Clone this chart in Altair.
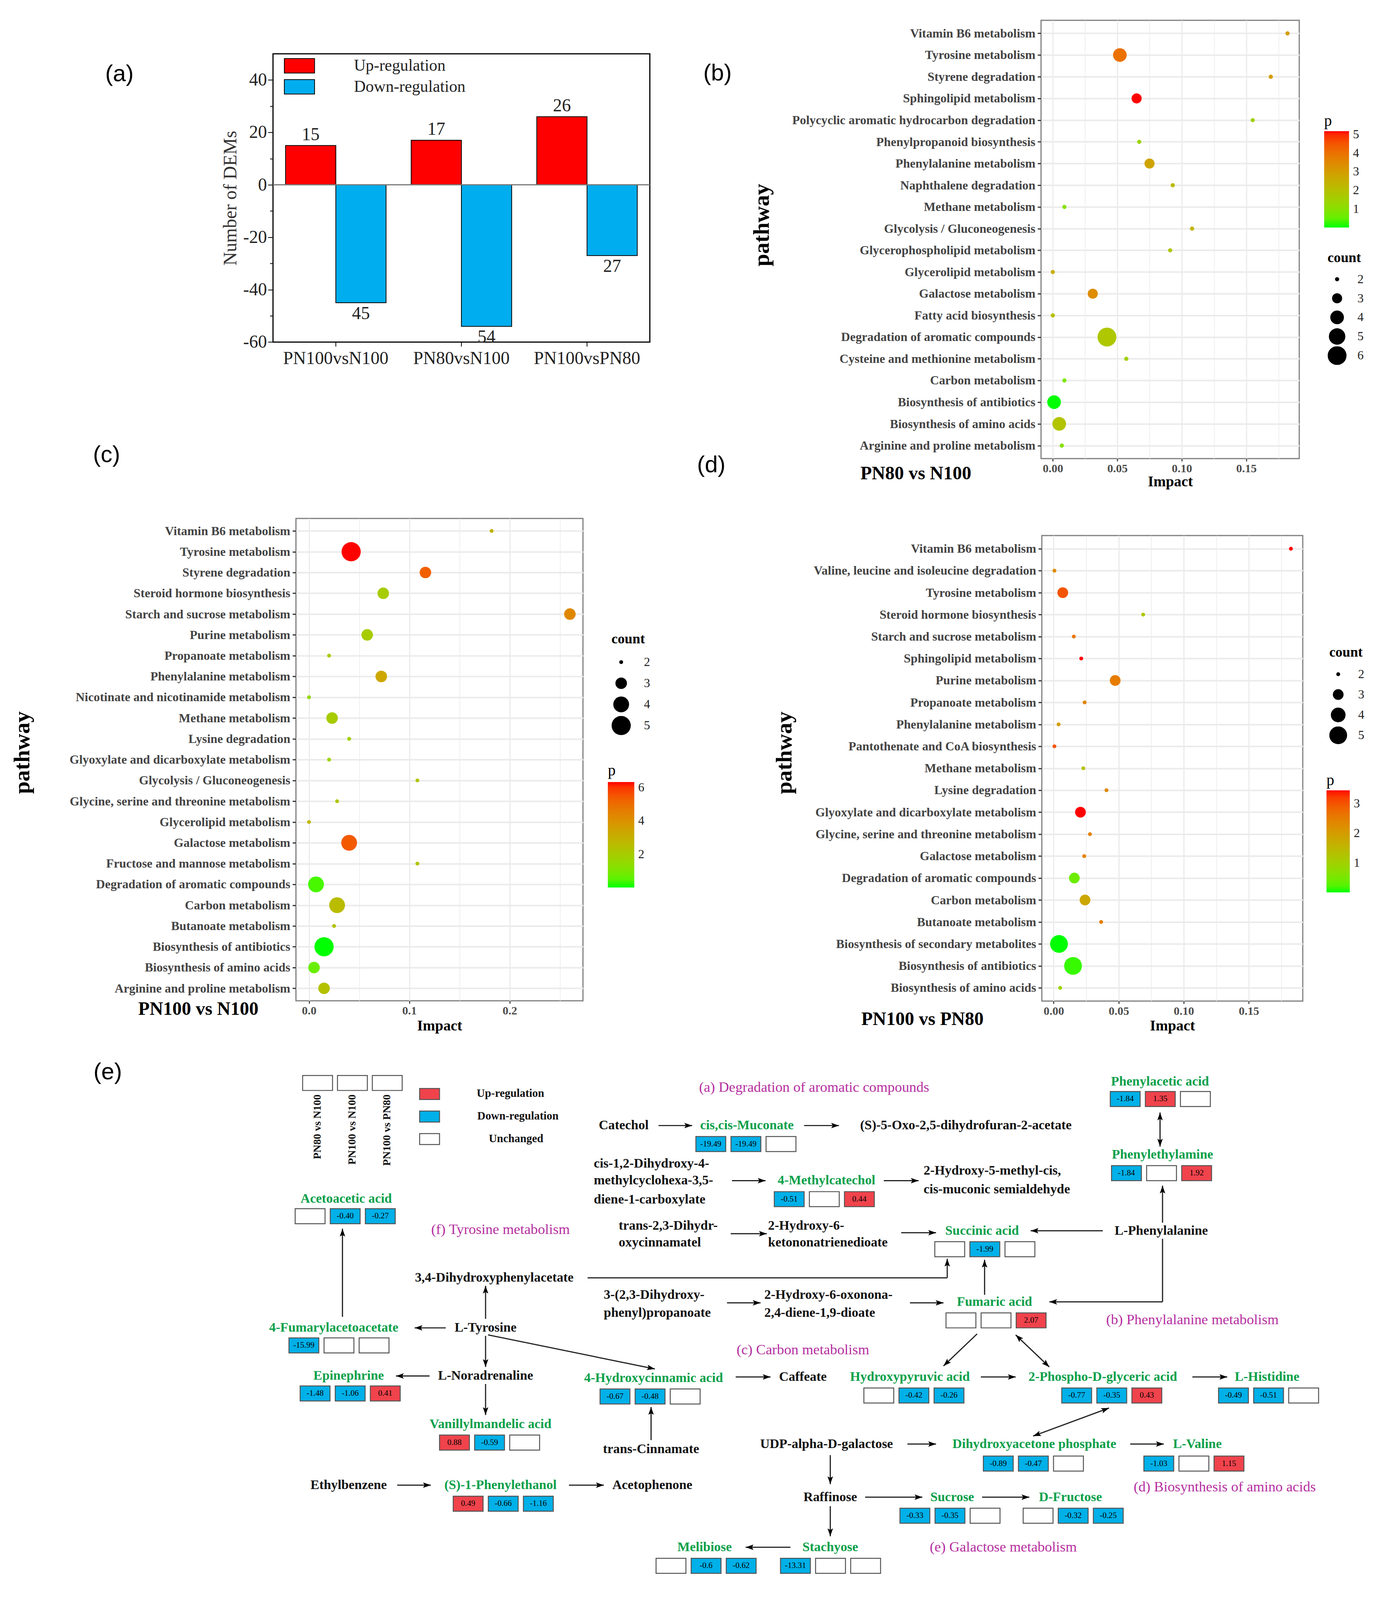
import math
import altair as alt
import pandas as pd

SERIF = "Liberation Serif"
SANS = "Liberation Sans"

# ======================= DATA =======================
# (a) number of DEMs
comparisons = ["PN100vsN100", "PN80vsN100", "PN100vsPN80"]
reg_types = ["Up-regulation", "Down-regulation"]
up_counts = [15, 17, 26]
down_counts = [45, 54, 27]

# (b) PN80 vs N100
b_paths = ["Vitamin B6 metabolism", "Tyrosine metabolism", "Styrene degradation",
           "Sphingolipid metabolism", "Polycyclic aromatic hydrocarbon degradation",
           "Phenylpropanoid biosynthesis", "Phenylalanine metabolism", "Naphthalene degradation",
           "Methane metabolism", "Glycolysis / Gluconeogenesis", "Glycerophospholipid metabolism",
           "Glycerolipid metabolism", "Galactose metabolism", "Fatty acid biosynthesis",
           "Degradation of aromatic compounds", "Cysteine and methionine metabolism",
           "Carbon metabolism", "Biosynthesis of antibiotics", "Biosynthesis of amino acids",
           "Arginine and proline metabolism"]
b_impact = [0.182, 0.052, 0.169, 0.065, 0.155, 0.067, 0.075, 0.093, 0.009, 0.108,
            0.091, 0.000, 0.031, 0.000, 0.042, 0.057, 0.009, 0.001, 0.005, 0.007]
b_count = [2, 4, 2, 3, 2, 2, 3, 2, 2, 2, 2, 2, 3, 2, 6, 2, 2, 4, 4, 2]
b_p = [3.0, 4.0, 3.0, 5.17, 1.5, 1.4, 2.8, 2.2, 1.0, 2.3, 1.8, 2.5, 3.4, 2.0, 1.8, 1.5,
       0.8, 0.0, 1.9, 1.0]

# (c) PN100 vs N100
c_paths = ["Vitamin B6 metabolism", "Tyrosine metabolism", "Styrene degradation",
           "Steroid hormone biosynthesis", "Starch and sucrose metabolism", "Purine metabolism",
           "Propanoate metabolism", "Phenylalanine metabolism",
           "Nicotinate and nicotinamide metabolism", "Methane metabolism", "Lysine degradation",
           "Glyoxylate and dicarboxylate metabolism", "Glycolysis / Gluconeogenesis",
           "Glycine, serine and threonine metabolism", "Glycerolipid metabolism",
           "Galactose metabolism", "Fructose and mannose metabolism",
           "Degradation of aromatic compounds", "Carbon metabolism", "Butanoate metabolism",
           "Biosynthesis of antibiotics", "Biosynthesis of amino acids",
           "Arginine and proline metabolism"]
c_impact = [0.182, 0.042, 0.116, 0.074, 0.260, 0.058, 0.020, 0.072, 0.000, 0.023, 0.040,
            0.020, 0.108, 0.028, 0.000, 0.040, 0.108, 0.007, 0.028, 0.025, 0.015, 0.005, 0.015]
c_count = [2, 5, 3, 3, 3, 3, 2, 3, 2, 3, 2, 2, 2, 2, 2, 4, 2, 4, 4, 2, 5, 3, 3]
c_p = [2.9, 6.32, 5.3, 2.0, 4.3, 2.0, 2.0, 3.3, 1.5, 2.0, 1.8, 1.7, 2.3, 2.3, 2.7, 5.4,
       2.3, 0.3, 2.6, 2.4, 0.0, 0.7, 2.4]

# (d) PN100 vs PN80
d_paths = ["Vitamin B6 metabolism", "Valine, leucine and isoleucine degradation",
           "Tyrosine metabolism", "Steroid hormone biosynthesis", "Starch and sucrose metabolism",
           "Sphingolipid metabolism", "Purine metabolism", "Propanoate metabolism",
           "Phenylalanine metabolism", "Pantothenate and CoA biosynthesis", "Methane metabolism",
           "Lysine degradation", "Glyoxylate and dicarboxylate metabolism",
           "Glycine, serine and threonine metabolism", "Galactose metabolism",
           "Degradation of aromatic compounds", "Carbon metabolism", "Butanoate metabolism",
           "Biosynthesis of secondary metabolites", "Biosynthesis of antibiotics",
           "Biosynthesis of amino acids"]
d_impact = [0.1824, 0.0006, 0.007, 0.0688, 0.0155, 0.0212, 0.0473, 0.0238, 0.0038, 0.0006,
            0.0228, 0.0406, 0.0206, 0.0279, 0.0235, 0.0159, 0.0241, 0.0365, 0.0041, 0.0149,
            0.005]
d_count = [2, 2, 3, 2, 2, 2, 3, 2, 2, 2, 2, 2, 3, 2, 2, 3, 3, 2, 5, 5, 2]
d_p = [3.44, 2.3, 3.0, 1.2, 2.6, 3.44, 2.5, 2.4, 2.0, 3.0, 1.3, 2.3, 3.44, 2.4, 2.4, 0.4,
       1.8, 2.5, 0.0, 0.1, 0.9]

# (e) pathway map: metabolites with their three fold changes
e_conditions = ["PN80 vs N100", "PN100 vs N100", "PN100 vs PN80"]
e_legend = ["Up-regulation", "Down-regulation", "Unchanged"]
box_values = [
    ["", "-0.40", "-0.27"],      # Acetoacetic acid
    ["-19.49", "-19.49", ""],    # cis,cis-Muconate
    ["-0.51", "", "0.44"],       # 4-Methylcatechol
    ["-1.84", "1.35", ""],       # Phenylacetic acid
    ["-1.84", "", "1.92"],       # Phenylethylamine
    ["", "-1.99", ""],           # Succinic acid
    ["", "", "2.07"],            # Fumaric acid
    ["-15.99", "", ""],          # 4-Fumarylacetoacetate
    ["-1.48", "-1.06", "0.41"],  # Epinephrine
    ["-0.67", "-0.48", ""],      # 4-Hydroxycinnamic acid
    ["", "-0.42", "-0.26"],      # Hydroxypyruvic acid
    ["-0.77", "-0.35", "0.43"],  # 2-Phospho-D-glyceric acid
    ["-0.49", "-0.51", ""],      # L-Histidine
    ["0.88", "-0.59", ""],       # Vanillylmandelic acid
    ["-0.89", "-0.47", ""],      # Dihydroxyacetone phosphate
    ["-1.03", "", "1.15"],       # L-Valine
    ["0.49", "-0.66", "-1.16"],  # (S)-1-Phenylethanol
    ["-0.33", "-0.35", ""],      # Sucrose
    ["", "-0.32", "-0.25"],      # D-Fructose
    ["", "-0.6", "-0.62"],       # Melibiose
    ["-13.31", "", ""],          # Stachyose
]
green_names = ["cis,cis-Muconate", "4-Methylcatechol", "Phenylacetic acid", "Phenylethylamine",
               "Acetoacetic acid", "Succinic acid", "Fumaric acid", "4-Fumarylacetoacetate",
               "Epinephrine", "4-Hydroxycinnamic acid", "Hydroxypyruvic acid",
               "2-Phospho-D-glyceric acid", "L-Histidine", "Vanillylmandelic acid",
               "Dihydroxyacetone phosphate", "L-Valine", "(S)-1-Phenylethanol", "Sucrose",
               "D-Fructose", "Melibiose", "Stachyose"]
black_names = ["Catechol", "(S)-5-Oxo-2,5-dihydrofuran-2-acetate", "L-Phenylalanine",
               "3,4-Dihydroxyphenylacetate", "L-Tyrosine", "L-Noradrenaline", "Caffeate",
               "trans-Cinnamate", "UDP-alpha-D-galactose", "Ethylbenzene", "Acetophenone",
               "Raffinose"]
black_left_names = ["cis-1,2-Dihydroxy-4-", "methylcyclohexa-3,5-", "diene-1-carboxylate",
                    "2-Hydroxy-5-methyl-cis,", "cis-muconic semialdehyde",
                    "trans-2,3-Dihydr-", "oxycinnamatel", "2-Hydroxy-6-", "ketononatrienedioate",
                    "3-(2,3-Dihydroxy-", "phenyl)propanoate", "2-Hydroxy-6-oxonona-",
                    "2,4-diene-1,9-dioate"]
pathway_names = ["(a) Degradation of aromatic compounds", "(f) Tyrosine metabolism",
                 "(b) Phenylalanine metabolism", "(c) Carbon metabolism",
                 "(d) Biosynthesis of amino acids", "(e) Galactose metabolism"]

# ======================= LAYOUT (diagram positions, figure units) =======================
box_pos = [(235, 1192), (557, 1120), (620, 1175), (890, 1075), (891, 1149), (749, 1225),
           (758, 1296), (230, 1321), (239, 1369), (480, 1372), (692, 1371), (851, 1371),
           (977, 1371), (351, 1418), (788, 1439), (917, 1439), (362, 1479), (721, 1491),
           (820, 1491), (525, 1541), (625, 1541)]
green_pos = [(598, 1109), (662, 1164), (930, 1065), (932, 1138), (276, 1182), (787, 1214),
             (797, 1285), (266, 1311), (278, 1359), (523, 1361), (729, 1360), (884, 1360),
             (1016, 1360), (392, 1407), (829, 1427), (960, 1427), (400, 1468), (763, 1480),
             (858, 1480), (564, 1530), (665, 1530)]
black_pos = [(499, 1109), (774, 1109), (931, 1214), (395, 1261), (388, 1311), (388, 1359),
             (643, 1360), (521, 1432), (662, 1427), (278, 1468), (522, 1468), (665, 1480)]
black_left_pos = [(475, 1147), (475, 1164), (475, 1183), (740, 1154), (740, 1173),
                  (495, 1209), (495, 1226), (615, 1209), (615, 1226), (483, 1278), (483, 1296),
                  (612, 1278), (612, 1296)]
pathway_pos = [(652, 1071), (400, 1213), (956, 1303), (643, 1333), (982, 1470), (804, 1530)]
segments = [
    (273, 1300, 273, 1212, "end"), (388, 1302, 388, 1269, "end"),
    (356, 1311, 331, 1311, "end"), (388, 1319, 388, 1350, "end"),
    (390, 1318, 524, 1352, "end"), (343, 1359, 316, 1359, "end"),
    (388, 1367, 388, 1398, "end"), (521, 1423, 521, 1390, "end"),
    (589, 1360, 617, 1360, "end"), (317, 1468, 344, 1468, "end"),
    (455, 1468, 483, 1468, "end"), (470, 1261, 759, 1261, "none"),
    (759, 1261, 759, 1242, "end"), (527, 1109, 554, 1109, "end"),
    (644, 1109, 672, 1109, "end"), (586, 1164, 613, 1164, "end"),
    (708, 1164, 736, 1164, "end"), (585, 1217, 614, 1217, "end"),
    (722, 1216, 750, 1216, "end"), (884, 1214, 826, 1214, "end"),
    (582, 1286, 609, 1286, "end"), (729, 1286, 756, 1286, "end"),
    (789, 1278, 789, 1243, "end"), (930, 1096, 930, 1130, "both"),
    (932, 1206, 932, 1169, "end"), (932, 1222, 932, 1285, "none"),
    (932, 1285, 841, 1285, "end"), (783, 1317, 756, 1349, "end"),
    (814, 1318, 841, 1350, "both"), (786, 1360, 814, 1360, "end"),
    (956, 1360, 984, 1360, "end"), (889, 1391, 828, 1419, "both"),
    (727, 1427, 750, 1427, "end"), (906, 1427, 933, 1427, "end"),
    (665, 1438, 665, 1467, "end"), (693, 1480, 739, 1480, "end"),
    (787, 1480, 825, 1480, "end"), (665, 1489, 665, 1519, "end"),
    (633, 1530, 597, 1530, "end"),
]
BOX_W, BOX_H, BOX_STEP = 24, 15, 28.2
UP_RED, DOWN_BLUE = "#F0434C", "#00B0E8"
GREEN, MAGENTA = "#0AA04A", "#B52DA0"

# The visible page is ~4050 px tall: every vertical distance of the 5019-px figure is scaled by K.
K = 0.805


def one():
    return pd.DataFrame({"t": [0]})


def cell(L, W, R, T, H, B):
    return alt.Chart(one()).mark_rect(opacity=0).encode(
        x=alt.value(-L), x2=alt.value(W + R), y=alt.value(-T), y2=alt.value(H + B))


def anno(text, x, y, font=SERIF, size=40, weight="normal", angle=0, color="black", align="center"):
    return alt.Chart(pd.DataFrame({"t": [text]})).mark_text(
        font=font, fontSize=size, fontWeight=weight, angle=angle, color=color, align=align,
        baseline="middle").encode(x=alt.value(x), y=alt.value(y * K), text="t:N")


# ======================= (a) =======================
dfa = pd.DataFrame({
    "comparison": comparisons * 2,
    "type": [reg_types[0]] * 3 + [reg_types[1]] * 3,
    "value": up_counts + [-v for v in down_counts],
    "label": [str(v) for v in up_counts + down_counts],
})
WA, HA = 969, 921 * K
xa = alt.X("comparison:N", sort=comparisons,
           scale=alt.Scale(paddingInner=0.2, paddingOuter=0.1),
           axis=alt.Axis(title=None, labelAngle=0, labelFont=SERIF, labelFontSize=46,
                         labelColor="#222", labelLimit=2000, tickColor="black", tickSize=11,
                         tickWidth=2, domain=False, labelPadding=9, bandPosition=0.5,
                         grid=False))
xoff = alt.XOffset("type:N", sort=reg_types, scale=alt.Scale(paddingInner=0, paddingOuter=0))
ya_scale = alt.Scale(domain=[-60, 50], nice=False, zero=False)
ya = alt.Y("value:Q", stack=None, scale=ya_scale,
           axis=alt.Axis(values=list(range(-60, 50, 10)),
                         labelExpr="datum.value % 20 == 0 ? '' + datum.value : ''",
                         tickSize={"condition": {"test": "datum.value % 20 == 0", "value": 13}, "value": 8},
                         tickWidth=2, tickColor="black", domain=False, grid=False,
                         labelFont=SERIF, labelFontSize=46, labelColor="#222", labelPadding=3,
                         title="Number of DEMs", titleFont=SERIF, titleFontSize=48,
                         titleFontWeight="normal", titleColor="#333", titleX=-109, titleY=HA / 2,
                         titleAngle=270, titleBaseline="middle", titleAlign="center"))
bars = alt.Chart(dfa).mark_bar(stroke="black", strokeWidth=2).encode(
    x=xa, xOffset=xoff, y=ya,
    fill=alt.Fill("type:N", sort=reg_types,
                  scale=alt.Scale(domain=reg_types, range=["#FF0000", "#00AEEF"]),
                  legend=alt.Legend(title=None, orient="none", legendX=47, legendY=10,
                                    direction="vertical", symbolType="M-2.1,-1H2.1V1H-2.1Z",
                                    symbolSize=1369, symbolStrokeColor="black",
                                    symbolStrokeWidth=2, symbolOpacity=1, labelFont=SERIF,
                                    labelFontSize=42, labelColor="#222", labelOffset=119,
                                    rowPadding=8, padding=0, labelLimit=1000)))
zero_line = alt.Chart(pd.DataFrame({"y": [0]})).mark_rule(color="#777", strokeWidth=3).encode(
    y=alt.Y("y:Q", scale=ya_scale))
up_txt = alt.Chart(dfa).transform_filter("datum.value > 0").mark_text(
    font=SERIF, fontSize=46, color="#222", baseline="bottom", dy=-4).encode(
    x=xa, xOffset=xoff, y=alt.Y("value:Q", scale=ya_scale), text="label:N")
dn_txt = alt.Chart(dfa).transform_filter("datum.value < 0").mark_text(
    font=SERIF, fontSize=46, color="#222", baseline="top", dy=6).encode(
    x=xa, xOffset=xoff, y=alt.Y("value:Q", scale=ya_scale), text="label:N")
panel_a = alt.layer(
    cell(686, WA, 67, 140 * K, HA, 401 * K), bars, zero_line, up_txt, dn_txt,
    anno("(a)", -395, 65, font=SANS, size=60),
    anno("(c)", -428, 1282, font=SANS, size=60),
).properties(width=WA, height=HA, view=alt.ViewBackground(stroke="black", strokeWidth=3))


# ======================= bubble panels =======================
def bubble(paths, impact, count, pval, c):
    df = pd.DataFrame({"pathway": paths, "impact": impact, "count": count, "p": pval})
    W, H = c["W"], c["H"] * K
    mj = c["major"]
    test_major = f"abs(datum.value/{mj} - round(datum.value/{mj})) < 0.001"
    xaxis = alt.Axis(values=c["xvals"],
                     labelExpr=f"{test_major} ? format(datum.value, '{c['fmt']}') : ''",
                     tickOpacity={"condition": {"test": test_major, "value": 1}, "value": 0},
                     gridWidth={"condition": {"test": test_major, "value": 3}, "value": 1.6},
                     gridColor="#EBEBEB", grid=True, tickSize=7, tickWidth=2.5, tickColor="#333",
                     domain=False, labelFont=SERIF, labelFontSize=30, labelFontWeight="bold",
                     labelColor="#4D4D4D", labelPadding=4,
                     title="Impact", titleFont=SERIF, titleFontSize=38, titleFontWeight="bold",
                     titleColor="black", titleX=W / 2, titleY=c["impact_dy"] * K,
                     titleBaseline="middle", titleAlign="center")
    yaxis = alt.Axis(title=None, labelFont=SERIF, labelFontSize=32, labelFontWeight="bold",
                     labelColor="#444", labelLimit=2000, tickSize=9, tickWidth=3,
                     tickColor="#333", domain=False, grid=True, gridColor="#EBEBEB",
                     gridWidth=4, labelPadding=6)
    maxd = math.sqrt(c["srange"][1] * K)
    clip = round(maxd)
    cx = c["sym_cx"] - maxd / 2
    cy = c["count_title_cy"] * K - 18
    ctp = max(0, (c["count_first_cy"] * K - clip / 2) - (cy + 36))
    crp = max(0, c["count_step"] * K - clip)
    clo = c["count_label_x"] - (cx + maxd)
    py = c["p_title_cy"] * K - 20
    ptp = max(0, c["grad_top"] * K - (py + 40))
    pts = alt.Chart(df).mark_circle(opacity=1).encode(
        x=alt.X("impact:Q", scale=alt.Scale(domain=c["xdom"], nice=False, zero=False), axis=xaxis),
        y=alt.Y("pathway:N", sort=paths, scale=alt.Scale(type="point", padding=0.6), axis=yaxis),
        size=alt.Size("count:Q", scale=alt.Scale(domain=c["sdom"],
                                                 range=[v * K for v in c["srange"]]),
                      legend=alt.Legend(title="count", orient="none", legendX=cx,
                                        legendY=cy, values=c["cvals"], format="d",
                                        direction="vertical", symbolType="circle",
                                        symbolFillColor="black", symbolStrokeColor="black",
                                        symbolStrokeWidth=0, symbolOpacity=1,
                                        clipHeight=clip, titleFont=SERIF, titleFontSize=36,
                                        titleFontWeight="bold", titleColor="black",
                                        titlePadding=ctp, labelFont=SERIF, labelFontSize=32,
                                        labelColor="#222", labelOffset=clo,
                                        rowPadding=crp, padding=0)),
        color=alt.Color("p:Q", scale=alt.Scale(domain=[min(pval), max(pval)],
                                               range=["#00FF00", "#FF0000"], interpolate="lab"),
                        legend=alt.Legend(title="p", orient="none", legendX=c["grad_x"],
                                          legendY=py, values=c["pvals"], format="d",
                                          direction="vertical",
                                          gradientLength=c["grad_len"] * K,
                                          gradientThickness=c["grad_w"], gradientStrokeWidth=0,
                                          titleFont=SERIF, titleFontSize=40,
                                          titleFontWeight="normal", titleColor="black",
                                          titlePadding=ptp, labelFont=SERIF,
                                          labelFontSize=32, labelColor="#222", labelOffset=10,
                                          labelOverlap=False, padding=0)),
    )
    layers = [cell(c["L"], W, c["R"], c["T"] * K, H, c["B"] * K), pts]
    for a in c["annos"]:
        layers.append(anno(*a[:3], **a[3]))
    return alt.layer(*layers).properties(
        width=W, height=H, view=alt.ViewBackground(stroke="#7F7F7F", strokeWidth=3))


vals_05 = [0, 0.025, 0.05, 0.075, 0.1, 0.125, 0.15, 0.175]
vals_1 = [0, 0.05, 0.1, 0.15, 0.2, 0.25]

cfg_b = dict(W=664, H=1400, L=929, R=195, T=33, B=119, xdom=[-0.0091, 0.1911], major=0.05,
             xvals=vals_05, fmt=".2f", impact_dy=74, sdom=[2, 6], srange=[144, 2916],
             cvals=[2, 3, 4, 5, 6], pvals=[1, 2, 3, 4, 5],
             p_title_cy=322, grad_top=354, grad_x=728, grad_len=308, grad_w=64,
             sym_cx=761, count_title_cy=760, count_first_cy=827, count_step=61,
             count_label_x=813,
             annos=[("(b)", -832, 170, {"font": SANS, "size": 60}),
                    ("(d)", -848, 1421, {"font": SANS, "size": 60}),
                    ("PN80 vs N100", -322, 1449, {"size": 48, "weight": "bold"}),
                    ("pathway", -717, 654, {"size": 58, "weight": "bold", "angle": 270})])
cfg_c = dict(W=738, H=1541, L=745, R=239, T=150, B=149, xdom=[-0.013, 0.273], major=0.1,
             xvals=vals_1, fmt=".1f", impact_dy=80, sdom=[2, 5], srange=[121, 3025],
             cvals=[2, 3, 4, 5], pvals=[2, 4, 6],
             p_title_cy=806, grad_top=842, grad_x=802, grad_len=337, grad_w=68,
             sym_cx=836, count_title_cy=387, count_first_cy=459, count_step=67.5,
             count_label_x=894,
             annos=[("PN100 vs N100", -251, 1569, {"size": 48, "weight": "bold"}),
                    ("pathway", -703, 748, {"size": 58, "weight": "bold", "angle": 270})])
cfg_d = dict(W=671, H=1487, L=931, R=186, T=114, B=149, xdom=[-0.0091, 0.1915], major=0.05,
             xvals=vals_05, fmt=".2f", impact_dy=80, sdom=[2, 5], srange=[121, 2601],
             cvals=[2, 3, 4, 5], pvals=[1, 2, 3],
             p_title_cy=782, grad_top=814, grad_x=732, grad_len=326, grad_w=60,
             sym_cx=762, count_title_cy=374, count_first_cy=443, count_step=65,
             count_label_x=813,
             annos=[("PN100 vs PN80", -307, 1546, {"size": 48, "weight": "bold"}),
                    ("pathway", -661, 694, {"size": 58, "weight": "bold", "angle": 270})])

panel_b = bubble(b_paths, b_impact, b_count, b_p, cfg_b)
panel_c = bubble(c_paths, c_impact, c_count, c_p, cfg_c)
panel_d = bubble(d_paths, d_impact, d_count, d_p, cfg_d)

# ======================= (e) =======================
WE, HE = 3512, 1700 * K
ex = alt.Scale(domain=[3.125, 1100.625], nice=False, zero=False)
ey = alt.Scale(domain=[1565.625, 1034.375], nice=False, zero=False)
X = lambda f: alt.X(f, scale=ex, axis=None)
Y = lambda f: alt.Y(f, scale=ey, axis=None)


def box_fill(v):
    if v == "":
        return "white"
    return DOWN_BLUE if v.startswith("-") else UP_RED


rows = []
for (x0, y0), vals in zip(box_pos, box_values):
    for i, v in enumerate(vals):
        xl = x0 + i * BOX_STEP
        rows.append({"x": xl, "x2": xl + BOX_W, "y": y0, "y2": y0 + BOX_H,
                     "xc": xl + BOX_W / 2, "yc": y0 + BOX_H / 2, "v": v, "fill": box_fill(v)})
for i in range(3):
    xl = 241 + i * 28
    rows.append({"x": xl, "x2": xl + BOX_W, "y": 1059, "y2": 1074, "xc": xl + 12,
                 "yc": 1066.5, "v": "", "fill": "white"})
for (yy, f) in zip([1072, 1094.5, 1117], [UP_RED, DOWN_BLUE, "white"]):
    rows.append({"x": 335, "x2": 351, "y": yy, "y2": yy + 11, "xc": 343, "yc": yy + 5.5,
                 "v": "", "fill": f})
dfbox = pd.DataFrame(rows)

boxes = alt.Chart(dfbox).mark_rect(stroke="#555", strokeWidth=2.5).encode(
    x=X("x:Q"), x2="x2:Q", y=Y("y:Q"), y2="y2:Q", fill=alt.Fill("fill:N", scale=None))
box_txt = alt.Chart(dfbox).mark_text(font=SERIF, fontSize=21, color="black",
                                     baseline="middle").encode(
    x=X("xc:Q"), y=Y("yc:Q"), text="v:N")


def tdf(names, pos):
    return pd.DataFrame({"text": names, "x": [p[0] for p in pos], "y": [p[1] for p in pos]})


def tlayer(df, **kw):
    return alt.Chart(df).mark_text(baseline="middle", **kw).encode(
        x=X("x:Q"), y=Y("y:Q"), text="text:N")


green_l = tlayer(tdf(green_names, green_pos), font=SERIF, fontSize=34, fontWeight="bold",
                 color=GREEN)
black_l = tlayer(tdf(black_names, black_pos), font=SERIF, fontSize=34, fontWeight="bold",
                 color="#111")
blackleft_l = tlayer(tdf(black_left_names, black_left_pos), font=SERIF, fontSize=34,
                     fontWeight="bold", color="#111", align="left")
path_l = tlayer(tdf(pathway_names, pathway_pos), font=SERIF, fontSize=37, color=MAGENTA)
cond_l = tlayer(tdf(e_conditions, [(253, 1078), (281, 1078), (309, 1078)]), font=SERIF,
                fontSize=28, fontWeight="bold", color="#111", angle=270, align="right")
leg_l = tlayer(tdf(e_legend, [(408, 1077), (414, 1099.5), (412.5, 1122)]), font=SERIF,
               fontSize=29, fontWeight="bold", color="#111")
elabel = tlayer(tdf(["(e)"], [(84.4, 1056)]), font=SANS, fontSize=60, color="black")

seg_df = pd.DataFrame(segments, columns=["x1", "y1", "x2", "y2", "head"])
lines = alt.Chart(seg_df).mark_rule(color="#222", strokeWidth=3).encode(
    x=X("x1:Q"), y=Y("y1:Q"), x2="x2:Q", y2="y2:Q")
heads = []
for x1, y1, x2, y2, h in segments:
    dxs, dys = (x2 - x1), (y2 - y1) * K
    if h in ("end", "both"):
        heads.append({"x": x2, "y": y2,
                      "ang": (math.degrees(math.atan2(dxs, -dys)) + 360) % 360})
    if h == "both":
        heads.append({"x": x1, "y": y1,
                      "ang": (math.degrees(math.atan2(-dxs, dys)) + 360) % 360})
head_df = pd.DataFrame(heads)
arrowheads = alt.Chart(head_df).mark_point(
    shape="M0,0L0.7,2L0,1.6L-0.7,2Z", filled=True, color="black", size=400, opacity=1).encode(
    x=X("x:Q"), y=Y("y:Q"), angle=alt.Angle("ang:Q", scale=None))

panel_e = alt.layer(lines, arrowheads, boxes, box_txt, green_l, black_l, blackleft_l, path_l,
                    cond_l, leg_l, elabel).properties(
    width=WE, height=HE, view=alt.ViewBackground(strokeOpacity=0))

# ======================= assemble =======================
# Each panel sits behind 1-px spacers so the concat layout places it by its full bounds
# (its invisible cell), giving edge-to-edge tiling of the cells.
IND = dict(color="independent", size="independent", fill="independent")


def indep(ch):
    return ch.resolve_scale(**IND).resolve_legend(**IND)


def spacer():
    return alt.Chart(one()).mark_point(opacity=0).encode(
        x=alt.value(0), y=alt.value(0)).properties(
        width=1, height=1, view=alt.ViewBackground(strokeOpacity=0))


def wrap(p):
    return indep(alt.hconcat(spacer(), indep(alt.vconcat(spacer(), p, spacing=0)), spacing=0))


left = indep(alt.vconcat(wrap(panel_a), wrap(panel_c), spacing=0))
right = indep(alt.vconcat(wrap(panel_b), wrap(panel_d), spacing=0))
top = indep(alt.hconcat(left, right, spacing=0))
chart = indep(alt.vconcat(top, wrap(panel_e), spacing=0)).properties(padding=0).configure(
    background="white", font=SERIF)

chart.save("out.html", embed_options={"renderer": "svg", "actions": False})
